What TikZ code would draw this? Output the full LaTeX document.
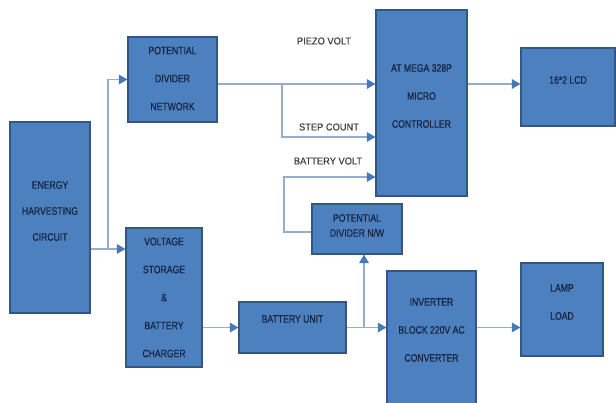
\documentclass[tikz,border=0pt]{standalone}
\usepackage{fontspec}
\setmainfont{Liberation Sans}
\newfontfamily\boxfont[FakeStretch=0.8,FakeBold=0.4]{Liberation Sans}
\newfontfamily\sigfont[FakeStretch=0.93,FakeBold=0.3]{Liberation Sans}
\usetikzlibrary{arrows.meta,positioning,calc}

\definecolor{boxblue}{RGB}{76,128,190}
\definecolor{boxline}{RGB}{52,86,130}
\definecolor{txtcol}{RGB}{22,36,66}
\definecolor{wire}{RGB}{150,172,202}
\definecolor{tipblue}{RGB}{72,120,182}

\tikzset{
  blk/.style={draw=boxline,fill=boxblue,line width=1.1pt,inner sep=0pt},
  boxtxt/.style={align=center,text=txtcol,inner sep=0pt,font=\boxfont\fontsize{10.8}{28}\selectfont},
  sig/.style={text=black!75,inner sep=0pt,font=\sigfont\fontsize{10}{12}\selectfont},
  flow/.style={draw=wire,line width=1.3pt,-{Triangle[length=8.5pt,width=9.5pt,color=tipblue]}},
  wirel/.style={draw=wire,line width=1.3pt}
}

\begin{document}
\begin{tikzpicture}[x=1pt,y=-1pt]
\useasboundingbox (0,0) rectangle (616,402);

\node[blk,minimum width=80,minimum height=191,
  label={[boxtxt,font=\boxfont\fontsize{10.8}{26}\selectfont,yshift=6.5pt]center:{ENERGY\\HARVESTING\\CIRCUIT}}] (energy) at (50,217.5) {};
\node[blk,minimum width=89,minimum height=85,
  label={[boxtxt,yshift=1pt]center:{POTENTIAL\\DIVIDER\\NETWORK}}] (pdn) at (172.5,79.5) {};
\node[blk,minimum width=76,minimum height=139,
  label={[boxtxt]center:{VOLTAGE\\STORAGE\\\&\\BATTERY\\CHARGER}}] (vsc) at (164,297.5) {};
\node[blk,minimum width=107,minimum height=51,
  label={[boxtxt,yshift=8.5pt]center:{BATTERY UNIT}}] (batt) at (292.5,327.5) {};
\node[blk,minimum width=91,minimum height=186,
  label={[boxtxt,yshift=7pt]center:{AT MEGA 328P\\MICRO\\CONTROLLER}}] (mcu) at (421.5,103) {};
\node[blk,minimum width=94,minimum height=78,
  label={[boxtxt,yshift=7pt]center:{16*2 LCD}}] (lcd) at (568,87) {};
\node[blk,minimum width=90,minimum height=50,
  label={[boxtxt,font=\boxfont\fontsize{10.8}{15}\selectfont,yshift=3.5pt]center:{POTENTIAL\\DIVIDER N/W}}] (pdnw) at (357,229) {};
\node[blk,minimum width=89,minimum height=133,
  label={[boxtxt,yshift=7.5pt]center:{INVERTER\\BLOCK 220V AC\\CONVERTER}}] (inv) at (431.5,337.5) {};
\node[blk,minimum width=82,minimum height=93,
  label={[boxtxt,yshift=7.5pt]center:{LAMP\\LOAD}}] (lamp) at (562,309.5) {};

\node[sig] (piezo-l) at (324,41) {PIEZO VOLT};
\node[sig] (step-l) at (329,127) {STEP COUNT};
\node[sig] (bv-l) at (328,161) {BATTERY VOLT};

\coordinate (j1) at (108,249);
\coordinate (j2) at (364,327.5);
\coordinate (piezo) at (282,84);
\coordinate (stp) at (282,137);
\coordinate (bv) at (284,177);
\coordinate (bvl) at (284,232);

\draw[wirel] (energy.east|-j1) -- (j1);
\draw[flow] (j1) -- (vsc.west|-j1);
\draw[flow] (j1) |- (pdn.west);
\draw[flow] (pdn.east|-piezo) -- (mcu.west|-piezo);
\draw[flow] (piezo) -- (stp) -- (mcu.west|-stp);
\draw[flow] (pdnw.west|-bvl) -- (bvl) -- (bv) -- (mcu.west|-bv);
\draw[flow] (mcu.east|-piezo) -- (lcd.west|-piezo);
\draw[flow] (vsc.east|-batt) -- (batt.west);
\draw[flow] (batt.east) -- (inv.west|-batt);
\draw[flow] (j2) -- (pdnw.south-|j2);
\draw[flow] (inv.east|-batt) -- (lamp.west|-batt);
\end{tikzpicture}
\end{document}
